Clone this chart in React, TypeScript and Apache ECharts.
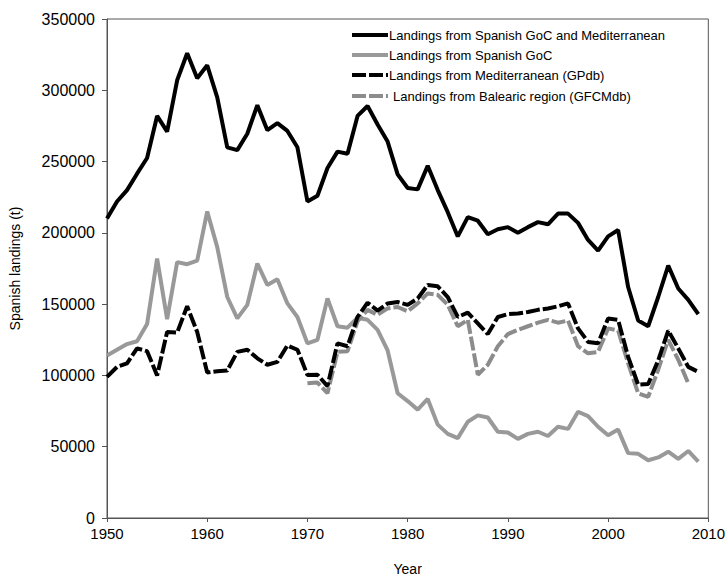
import React, { useEffect, useRef } from "react";
import * as echarts from "echarts";

const years = [
  1950, 1951, 1952, 1953, 1954, 1955, 1956, 1957, 1958, 1959,
  1960, 1961, 1962, 1963, 1964, 1965, 1966, 1967, 1968, 1969,
  1970, 1971, 1972, 1973, 1974, 1975, 1976, 1977, 1978, 1979,
  1980, 1981, 1982, 1983, 1984, 1985, 1986, 1987, 1988, 1989,
  1990, 1991, 1992, 1993, 1994, 1995, 1996, 1997, 1998, 1999,
  2000, 2001, 2002, 2003, 2004, 2005, 2006, 2007, 2008, 2009,
];

const goCMed = [
  210000, 222000, 230000, 241500, 252500, 282000, 271000, 307000, 326000, 308500,
  317500, 295000, 260000, 258000, 269500, 289500, 272000, 277000, 271500, 260000,
  222000, 226000, 245500, 257000, 255500, 282000, 289000, 276000, 264000, 241000,
  231500, 230500, 247000, 230000, 214500, 197500, 211000, 208500, 199000, 202500,
  204000, 200000, 204000, 207500, 206000, 213500, 213500, 207000, 195000, 187500,
  197500, 202000, 162000, 138500, 134500, 155000, 177000, 161000, 153000, 143000,
];

const goC = [
  114000, 118000, 122000, 124000, 136000, 182000, 139500, 179500, 178000, 180500,
  215000, 190000, 155000, 140000, 149500, 178500, 163500, 167500, 150500, 141000,
  122500, 125000, 154000, 134500, 133500, 140500, 139000, 132000, 117500, 87500,
  82000, 76000, 83500, 65500, 59000, 56000, 67500, 72000, 70500, 60500,
  60000, 55500, 59000, 60500, 57500, 64000, 62500, 74500, 71500, 64000,
  58000, 62000, 45500, 45000, 40500, 42500, 46500, 41500, 47000, 39500,
];

const medGPdb = [
  99000, 106000, 108500, 119000, 117000, 100000, 130500, 130000, 148500, 130500,
  102000, 103000, 103500, 116500, 118000, 112000, 107500, 109500, 121000, 118000,
  100300, 100500, 92500, 122500, 120500, 141000, 151000, 145500, 150500, 151500,
  149500, 154000, 163500, 162500, 155000, 141000, 144000, 136500, 129000, 141000,
  143000, 143500, 144500, 146000, 147000, 148500, 150500, 133000, 123500, 122500,
  140000, 139000, 113000, 93500, 94000, 110500, 131500, 119000, 106000, 102500,
];

const balearicYears = [
  1970, 1971, 1972, 1973, 1974, 1975, 1976, 1977, 1978, 1979,
  1980, 1981, 1982, 1983, 1984, 1985, 1986, 1987, 1988, 1989,
  1990, 1991, 1992, 1993, 1994, 1995, 1996, 1997, 1998, 1999,
  2000, 2001, 2002, 2003, 2004, 2005, 2006, 2007, 2008,
];

const balearicGFCMdb = [
  94500, 95000, 87500, 116500, 117000, 138000, 146000, 142500, 147000, 148000,
  145000, 150500, 157500, 156500, 149500, 134500, 139000, 100500, 107500, 120500,
  129000, 132000, 134500, 137000, 139000, 137000, 138500, 120500, 115500, 116500,
  133000, 131500, 108500, 87500, 85000, 104000, 125000, 111000, 94500,
];

const seriesNames = [
  "Landings from Spanish GoC and Mediterranean",
  "Landings from Spanish GoC",
  "Landings from Mediterranean (GPdb)",
  "Landings from Balearic region (GFCMdb)",
];

const seriesColors = ["#000000", "#999999", "#000000", "#8c8c8c"];
const seriesDashed = [false, false, true, true];

const pair = (xs: number[], ys: number[]) => ys.map((v, i) => [xs[i], v]);

export default function App() {
  const ref = useRef<HTMLDivElement>(null);
  useEffect(() => {
    if (!ref.current) return;
    const chart = echarts.init(ref.current, null, { renderer: "svg" });
    const font = "'Liberation Sans', Arial, sans-serif";
    const axisCol = "#555555";
    const legendRows = [35, 55, 75, 96];
    const legendGraphic: any[] = [];
    seriesNames.forEach((name, i) => {
      legendGraphic.push({
        type: "line",
        shape: { x1: 352, y1: legendRows[i], x2: 388, y2: legendRows[i] },
        style: {
          stroke: seriesColors[i],
          lineWidth: 4,
          lineDash: seriesDashed[i] ? [14, 3] : null,
        },
        z: 10,
      });
      legendGraphic.push({
        type: "text",
        x: i === 3 ? 393 : 389,
        y: legendRows[i],
        style: {
          text: name,
          fontFamily: font,
          fontSize: 13,
          fill: "#000",
          verticalAlign: "middle",
          align: "left",
        },
        z: 10,
      });
    });
    chart.setOption({
      animation: false,
      backgroundColor: "#ffffff",
      textStyle: { fontFamily: font },
      grid: {
        left: 105,
        right: 19,
        top: 19,
        bottom: 63,
        show: true,
        borderColor: axisCol,
        borderWidth: 1,
      },
      graphic: legendGraphic,
      xAxis: {
        type: "value",
        min: 1950,
        max: 2010,
        interval: 10,
        name: "Year",
        nameLocation: "middle",
        nameGap: 44,
        nameTextStyle: { fontFamily: font, fontSize: 14, color: "#000" },
        axisLine: { lineStyle: { color: axisCol, width: 1 } },
        axisTick: { show: true, inside: false, length: 4, lineStyle: { color: axisCol } },
        axisLabel: { fontFamily: font, fontSize: 15, color: "#000", margin: 8, formatter: (v: number) => String(v) },
        splitLine: { show: false },
      },
      yAxis: {
        type: "value",
        min: 0,
        max: 350000,
        interval: 50000,
        name: "Spanish landings (t)",
        nameLocation: "middle",
        nameGap: 85,
        nameTextStyle: { fontFamily: font, fontSize: 14, color: "#000" },
        axisLine: { show: true, lineStyle: { color: axisCol, width: 1 } },
        axisTick: { show: true, inside: false, length: 5, lineStyle: { color: axisCol } },
        axisLabel: { fontFamily: font, fontSize: 16, color: "#000", margin: 12, formatter: (v: number) => String(v) },
        splitLine: { show: false },
      },
      series: [
        {
          name: seriesNames[0],
          type: "line",
          data: pair(years, goCMed),
          symbol: "none",
          lineStyle: { color: seriesColors[0], width: 4 },
          z: 2,
        },
        {
          name: seriesNames[1],
          type: "line",
          data: pair(years, goC),
          symbol: "none",
          lineStyle: { color: seriesColors[1], width: 4 },
          z: 2,
        },
        {
          name: seriesNames[2],
          type: "line",
          data: pair(years, medGPdb),
          symbol: "none",
          lineStyle: { color: seriesColors[2], width: 4, type: [14, 3] },
          z: 4,
        },
        {
          name: seriesNames[3],
          type: "line",
          data: pair(balearicYears, balearicGFCMdb),
          symbol: "none",
          lineStyle: { color: seriesColors[3], width: 4, type: [14, 3] },
          z: 3,
        },
      ],
    });
    return () => chart.dispose();
  }, []);
  return (
    <div
      ref={ref}
      style={{ position: "fixed", left: 0, top: 0, width: 728, height: 581 }}
    />
  );
}
